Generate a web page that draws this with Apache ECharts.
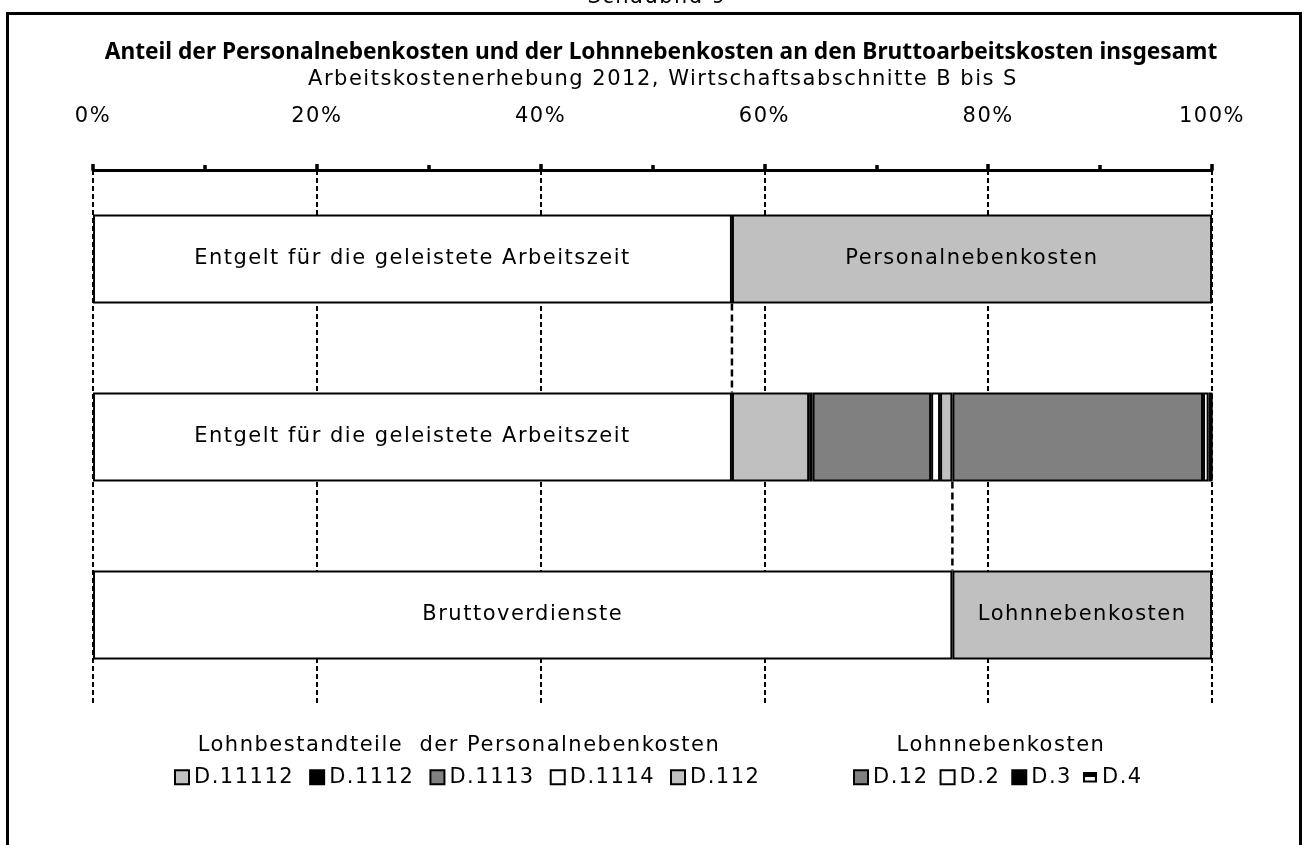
<!DOCTYPE html>
<html>
<head>
<meta charset="utf-8">
<script src="https://cdn.jsdelivr.net/npm/echarts@6/dist/echarts.min.js"></script>
<style>
html,body{margin:0;padding:0;background:#fff;}
#c{width:1308px;height:845px;}
</style>
</head>
<body>
<div id="c"></div>
<script>
// ---------- data ----------
const categories = ['Personalnebenkosten', 'Bestandteile', 'Lohnnebenkosten'];
const tickValues = [0, 20, 40, 60, 80, 100];
const tickLabels = ['0%', '20%', '40%', '60%', '80%', '100%'];

const entgelt            = [57.1, 57.1, null];
const bruttoverdienste   = [null, null, 76.8];
const d11112             = [null, 6.9, null];
const d1112              = [null, 0.3, null];
const d1113              = [null, 10.6, null];
const d1114              = [null, 0.8, null];
const d112               = [null, 1.1, null];
const d12                = [null, 22.4, null];
const d2                 = [null, 0.5, null];
const d3                 = [null, 0.25, null];
const d4                 = [null, 0.05, null];
const personalnebenkosten = [42.9, null, null];
const lohnnebenkosten     = [null, null, 23.2];

const legendGroup1 = ['D.11112', 'D.1112', 'D.1113', 'D.1114', 'D.112'];
const legendGroup2 = ['D.12', 'D.2', 'D.3', 'D.4'];

// ---------- text tracking (the reference font is widely spaced) ----------
(function () {
  const P = CanvasRenderingContext2D.prototype;
  const spacing = function (ctx) {
    const f = ctx.font || '';
    return /bold|700/.test(f) ? '0px' : '1.5px';
  };
  const of = P.fillText, om = P.measureText, os = P.strokeText;
  P.fillText = function () { try { this.letterSpacing = spacing(this); } catch (e) {} return of.apply(this, arguments); };
  P.strokeText = function () { try { this.letterSpacing = spacing(this); } catch (e) {} return os.apply(this, arguments); };
  P.measureText = function () { try { this.letterSpacing = spacing(this); } catch (e) {} return om.apply(this, arguments); };
})();

const FONT = 'DejaVu Sans';
const FS = 21;
const LIGHT = '#c0c0c0', DARK = '#808080', WHITE = '#ffffff', BLACK = '#000000';

function seg(name, data, color, withLabel) {
  return {
    name: name, type: 'bar', stack: 'total', data: data, barWidth: '50%',
    yAxisIndex: 0,
    itemStyle: { color: color, borderColor: BLACK, borderWidth: 2 },
    label: withLabel ? { show: true, position: 'inside', formatter: name, color: BLACK, fontSize: FS, fontFamily: FONT } : { show: false },
    emphasis: { disabled: true },
    z: 3
  };
}

function connector(value, from, to) {
  return {
    type: 'line', yAxisIndex: 1, symbol: 'none', silent: true, z: 4,
    data: [[value, from], [value, to]],
    lineStyle: { color: BLACK, width: 2.5, type: [7, 4] }
  };
}

const series = [
  seg('Entgelt für die geleistete Arbeitszeit', entgelt, WHITE, true),
  seg('Bruttoverdienste', bruttoverdienste, WHITE, true),
  seg('D.11112', d11112, LIGHT, false),
  seg('D.1112', d1112, BLACK, false),
  seg('D.1113', d1113, DARK, false),
  seg('D.1114', d1114, WHITE, false),
  seg('D.112', d112, LIGHT, false),
  seg('D.12', d12, DARK, false),
  seg('D.2', d2, WHITE, false),
  seg('D.3', d3, BLACK, false),
  seg('D.4', d4, WHITE, false),
  seg('Personalnebenkosten', personalnebenkosten, LIGHT, true),
  seg('Lohnnebenkosten', lohnnebenkosten, LIGHT, true),
  connector(entgelt[0], 0.75, 1.25),
  connector(bruttoverdienste[2], 1.75, 2.25)
];

const legendText = { fontSize: FS, fontFamily: FONT, color: BLACK };
const d4Icon = 'path://M0,0 L12,0 L12,9 L0,9 Z M1.8,4.2 L1.8,7.2 L10.2,7.2 L10.2,4.2 Z';

const option = {
  animation: false,
  backgroundColor: '#fff',
  grid: { left: 93, right: 96, top: 170, height: 534, containLabel: false },
  xAxis: {
    type: 'value', position: 'top', min: 0, max: 100, interval: 20,
    axisLine: { show: true, lineStyle: { color: BLACK, width: 3 } },
    axisTick: { show: true, length: 6, lineStyle: { color: BLACK, width: 3.5 } },
    minorTick: { show: true, splitNumber: 2, length: 5, lineStyle: { color: BLACK, width: 3.5 } },
    axisLabel: {
      margin: 42, color: BLACK, fontSize: FS, fontFamily: FONT,
      formatter: function (v) { const i = tickValues.indexOf(v); return i >= 0 ? tickLabels[i] : ''; }
    },
    splitLine: { show: true, lineStyle: { color: BLACK, width: 2, type: [5, 3] } }
  },
  yAxis: [
    { type: 'category', data: categories, inverse: true, show: false },
    { type: 'value', min: 0, max: 3, inverse: true, show: false }
  ],
  legend: [
    {
      data: legendGroup1, left: 174, top: 766, padding: 0, itemWidth: 14, itemHeight: 14, itemGap: 15,
      selectedMode: false, textStyle: legendText, icon: 'rect'
    },
    {
      data: legendGroup2.map(function (n) {
        return n === 'D.4' ? { name: n, icon: d4Icon, itemStyle: { color: BLACK, borderWidth: 0 } } : { name: n, icon: 'rect' };
      }),
      left: 853, top: 766, padding: 0, itemWidth: 14, itemHeight: 14, itemGap: 11,
      selectedMode: false, textStyle: legendText
    }
  ],
  graphic: [
    { type: 'rect', silent: true, shape: { x: 7.5, y: 13.5, width: 1293, height: 900 }, style: { fill: 'none', stroke: BLACK, lineWidth: 3 } },
    { type: 'text', silent: true, x: 657, y: 9, style: { text: 'Schaubild 9', fontSize: FS, fontFamily: FONT, fill: BLACK, textAlign: 'center', textVerticalAlign: 'bottom', align: 'center', verticalAlign: 'bottom' } },
    { type: 'text', silent: true, x: 661, y: 53, style: { text: 'Anteil der Personalnebenkosten und der Lohnnebenkosten an den Bruttoarbeitskosten insgesamt', fontSize: 22.7, fontWeight: 'bold', fontFamily: 'Noto Sans', fill: BLACK, textAlign: 'center', textVerticalAlign: 'middle', align: 'center', verticalAlign: 'middle' } },
    { type: 'text', silent: true, x: 663, y: 80, style: { text: 'Arbeitskostenerhebung 2012, Wirtschaftsabschnitte B bis S', fontSize: FS, fontFamily: FONT, fill: BLACK, textAlign: 'center', textVerticalAlign: 'middle', align: 'center', verticalAlign: 'middle' } },
    { type: 'text', silent: true, x: 459, y: 746, style: { text: 'Lohnbestandteile  der Personalnebenkosten', fontSize: FS, fontFamily: FONT, fill: BLACK, textAlign: 'center', textVerticalAlign: 'middle', align: 'center', verticalAlign: 'middle' } },
    { type: 'text', silent: true, x: 1001, y: 746, style: { text: 'Lohnnebenkosten', fontSize: FS, fontFamily: FONT, fill: BLACK, textAlign: 'center', textVerticalAlign: 'middle', align: 'center', verticalAlign: 'middle' } }
  ],
  series: series
};

const chart = echarts.init(document.getElementById('c'), null, { renderer: 'canvas' });
chart.setOption(option);
</script>
</body>
</html>
